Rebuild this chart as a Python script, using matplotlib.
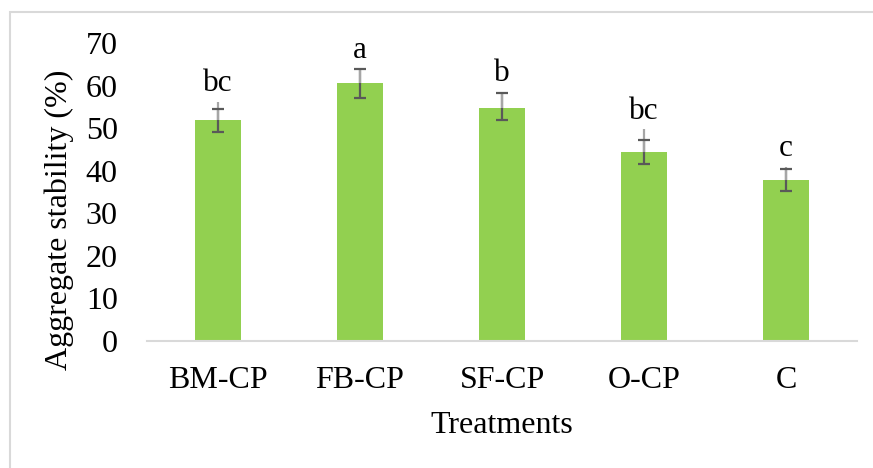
import numpy as np
import matplotlib
matplotlib.use("Agg")
import matplotlib.pyplot as plt
from matplotlib.patches import Rectangle

treatments = ["BM-CP", "FB-CP", "SF-CP", "O-CP", "C"]
stability = [51.8, 60.5, 54.8, 44.3, 37.8]
err_low = [2.7, 3.5, 3.0, 2.8, 2.6]
err_high = [2.7, 3.5, 3.5, 2.9, 2.6]
# second (longer) upper whisker drawn in light grey
whisker_high = [4.4, 3.5, 3.7, 5.4, 3.1]
letters = ["bc", "a", "b", "bc", "c"]

plt.rcParams['font.family'] = ['Liberation Serif', 'DejaVu Serif']

W, H = 873, 468
fig = plt.figure(figsize=(W / 100, H / 100), dpi=100)
ax = fig.add_axes([147 / W, 1 - 341 / H, 710 / W, 298 / H])

x = np.arange(len(treatments))
vals = np.array(stability)

ax.bar(x, vals, width=0.32, color="#92D050", zorder=2)

eb = ax.errorbar(x, vals, yerr=[err_low, err_high], fmt="none",
                 ecolor="#595959", elinewidth=1.6, capsize=4.5, capthick=1.6, zorder=3)
ax.vlines(x, vals, vals + np.array(whisker_high), color="#a6a6a6", lw=1.6, zorder=3.5)
for c in eb[1]:
    c.set_zorder(4)

tops = np.maximum(vals + np.array(err_high), vals + np.array(whisker_high))
for xi, top, lt in zip(x, tops, letters):
    ax.text(xi, top + 2.5, lt, ha="center", va="baseline", fontsize=22.5, color="black")

ax.set_xlim(-0.5, len(treatments) - 0.5)
ax.set_ylim(0, 70)
ax.set_yticks(range(0, 71, 10))
ax.set_xticks(x)
ax.set_xticklabels(treatments)
ax.tick_params(axis="both", length=0, labelsize=23, colors="black")
ax.tick_params(axis="y", pad=21)
ax.tick_params(axis="x", pad=18)

for s in ["top", "right", "left"]:
    ax.spines[s].set_visible(False)
ax.spines["bottom"].set_color("#d9d9d9")
ax.spines["bottom"].set_linewidth(1.5)

ax.set_ylabel("Aggregate stability (%)", fontsize=23)
ax.yaxis.set_label_coords(-0.103, 0.408)
ax.set_xlabel("Treatments", fontsize=23)
ax.xaxis.set_label_coords(0.5, -0.235)

# chart-area border (only top and left edges visible in the crop)
fig.patches.append(Rectangle((10 / W, -0.1), 1.2, 1 - 12 / H + 0.1, transform=fig.transFigure,
                             fill=False, edgecolor="#d9d9d9", lw=1.5))

fig.savefig("out.png", dpi=100)
